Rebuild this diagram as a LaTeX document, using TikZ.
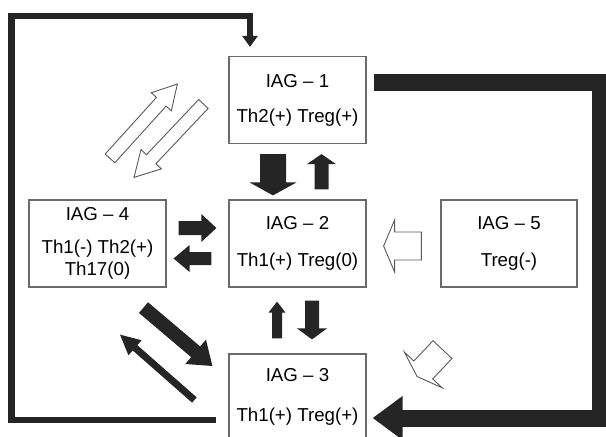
\documentclass[tikz,border=0pt]{standalone}
\usepackage{fontspec}
\setmainfont{Liberation Sans}
\usetikzlibrary{calc,arrows.meta}
\definecolor{dk}{HTML}{252525}
\definecolor{bx}{HTML}{6A6A6A}
\definecolor{ho}{HTML}{5A5A5A}
% block arrow: style, start, end, half shaft width, half head width, head length
\newcommand\blockarr[6]{%
  \path[#1] ($(#2)!#4!90:(#3)$)
   -- ($($(#3)!#6!(#2)$)!#4!-90:(#2)$)
   -- ($($(#3)!#6!(#2)$)!#5!-90:(#2)$)
   -- (#3)
   -- ($($(#3)!#6!(#2)$)!#5!90:(#2)$)
   -- ($($(#3)!#6!(#2)$)!#4!90:(#2)$)
   -- ($(#2)!#4!-90:(#3)$) -- cycle;}
\begin{document}
\begin{tikzpicture}[x=1pt,y=-1pt,
  box/.style={draw=bx, line width=1.2pt, fill=white, minimum width=137pt,
    minimum height=87pt, inner sep=0pt, align=center,
    font=\fontsize{18.7}{37}\selectfont},
  dark/.style={fill=dk},
  hollow/.style={draw=ho, line width=0.9pt, fill=white, line join=miter},
  thinloop/.style={draw=dk, line width=6.5pt},
  thickloop/.style={draw=dk, line width=17pt}]
\useasboundingbox (0,0) rectangle (606,437);
\clip (0,0) rectangle (606,437);

% boxes
\node[box, font=\fontsize{18.7}{35}\selectfont] (n1) at (297.5,100) {IAG – 1\\Th2(+) Treg(+)};
\node[box] (n2) at (297.5,243.5) {IAG – 2\\Th1(+) Treg(0)};
\node[box, minimum height=86pt, font=\fontsize{18.7}{40}\selectfont] (n3) at (297.5,397) {IAG – 3\\Th1(+) Treg(+)};
\node[box, font=\fontsize{18.7}{33}\selectfont] (n4) at (97.5,243.5) {IAG – 4\\Th1(-) Th2(+)\\[-11pt]Th17(0)};
\node[box, minimum width=136pt] (n5) at (509,243.5) {IAG – 5\\Treg(-)};

% outer loops
\coordinate (lA) at ([shift={(-12,23)}]n3.west);
\coordinate (lB) at ([shift={(-47.5,-9)}]n1.north);
\draw[thinloop, -{Triangle[width=15pt,length=11pt]}] (lA) -| (11.5,16) -| (lB);

\coordinate (rA) at ([shift={(7,-18)}]n1.east);
\coordinate (rB) at ([shift={(6,21)}]n3.east);
\draw[thickloop, -{Triangle[width=42pt,length=30pt]}] (rA) -| (600.5,418) -- (rB);

% dark block arrows
\coordinate (a1s) at ([shift={(-24.5,10)}]n1.south);
\coordinate (a1e) at ([shift={(-24.5,-4)}]n2.north);
\blockarr{dark}{a1s}{a1e}{13pt}{23.5pt}{13pt}

\coordinate (a2s) at ([shift={(24,-10)}]n2.north);
\coordinate (a2e) at ([shift={(24,10)}]n1.south);
\blockarr{dark}{a2s}{a2e}{7pt}{14.5pt}{10pt}

\coordinate (a3s) at ([shift={(12,-15.5)}]n4.east);
\coordinate (a3e) at ([shift={(-12,-15.5)}]n2.west);
\blockarr{dark}{a3s}{a3e}{7pt}{14pt}{15pt}

\coordinate (a4s) at ([shift={(-17,15)}]n2.west);
\coordinate (a4e) at ([shift={(7,15)}]n4.east);
\blockarr{dark}{a4s}{a4e}{6.5pt}{13.5pt}{16pt}

\coordinate (a5s) at ([shift={(-20.5,-15)}]n3.north);
\coordinate (a5e) at ([shift={(-20.5,14)}]n2.south);
\blockarr{dark}{a5s}{a5e}{5pt}{8.5pt}{11pt}

\coordinate (a6s) at ([shift={(14.5,13)}]n2.south);
\coordinate (a6e) at ([shift={(14.5,-14)}]n3.north);
\blockarr{dark}{a6s}{a6e}{7pt}{15pt}{11pt}

\coordinate (a7s) at ([shift={(46,20)}]n4.south);
\coordinate (a7e) at ([shift={(-16,-31)}]n3.west);
\blockarr{dark}{a7s}{a7e}{7pt}{16pt}{22pt}

\coordinate (a8s) at ([shift={(-34,3)}]n3.west);
\coordinate (a8e) at ([shift={(22.5,47)}]n4.south);
\blockarr{dark}{a8s}{a8e}{3.5pt}{10pt}{20pt}

% hollow arrows
\coordinate (h1s) at ([shift={(12.5,-41)}]n4.north);
\coordinate (h1e) at ([shift={(-51,-16)}]n1.west);
\blockarr{hollow}{h1s}{h1e}{6.5pt}{13.5pt}{24pt}

\coordinate (h2s) at ([shift={(-25,4)}]n1.west);
\coordinate (h2e) at ([shift={(36.5,-22)}]n4.north);
\blockarr{hollow}{h2s}{h2e}{6.5pt}{14pt}{25pt}

\coordinate (h3s) at ([shift={(-19,2.5)}]n5.west);
\coordinate (h3e) at ([shift={(17,2.5)}]n2.east);
\blockarr{hollow}{h3s}{h3e}{14pt}{26pt}{11pt}

\coordinate (h4s) at ([shift={(-66.5,62)}]n5.south);
\coordinate (h4e) at ([shift={(50.5,-20.5)}]n3.east);
\blockarr{hollow}{h4s}{h4e}{13pt}{26pt}{9pt}
\end{tikzpicture}
\end{document}
